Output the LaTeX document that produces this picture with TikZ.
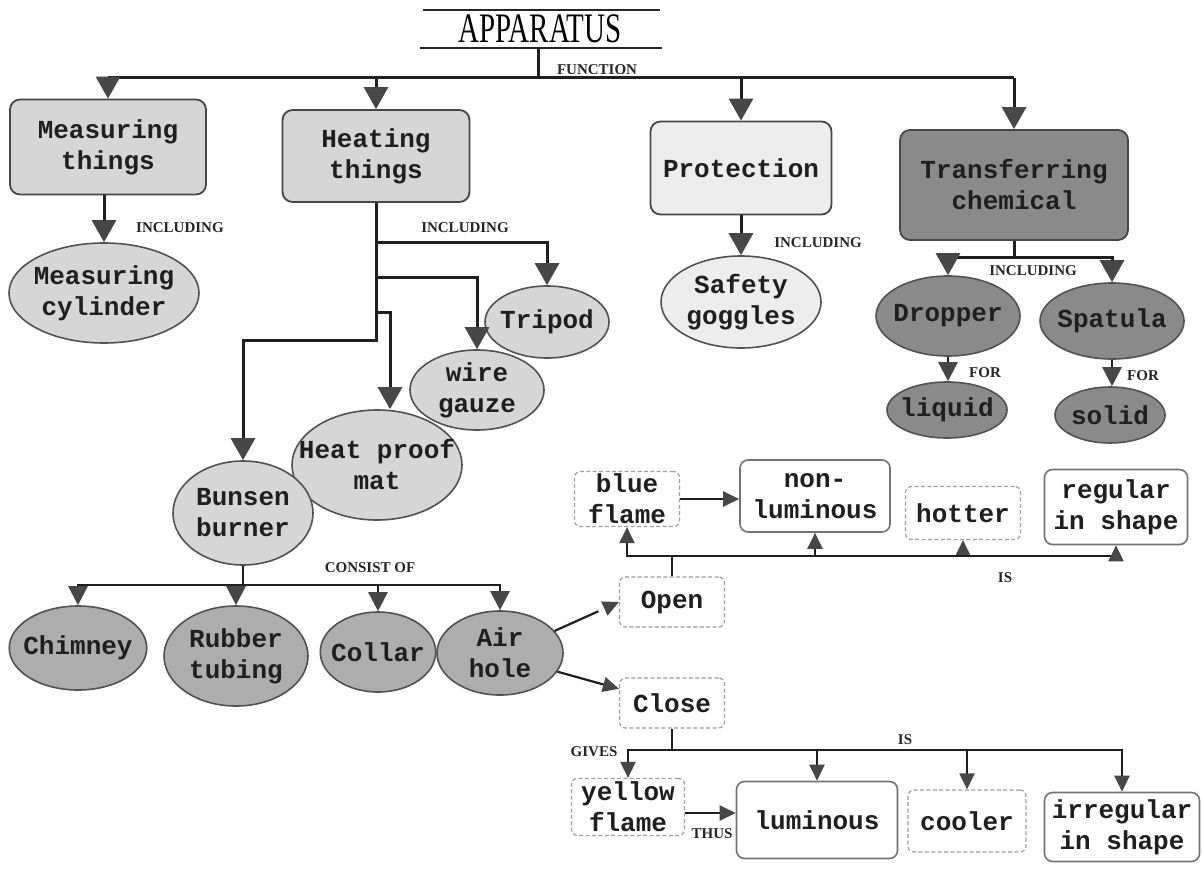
\documentclass[tikz,border=0pt]{standalone}
\usepackage{fontspec}
\usepackage{graphicx}
\usetikzlibrary{arrows.meta,shapes.geometric}
\newfontfamily\boxfont{Liberation Mono}
\newfontfamily\tagfont{Liberation Serif}
\newfontfamily\headfont{Liberation Serif}

\tikzset{
  base/.style={font=\boxfont\bfseries\fontsize{13}{15.5}\selectfont, align=center, text=black!88},
  box/.style={base, rectangle, rounded corners=5pt, draw=black!72, line width=0.9pt, inner sep=0pt},
  oval/.style={base, ellipse, draw=black!68, line width=0.8pt, inner xsep=-3pt, inner ysep=0pt},
  note/.style={base, rectangle, rounded corners=3pt, draw=black!38, dash pattern=on 2pt off 1.2pt, line width=0.6pt, fill=white, inner sep=0pt},
  frame/.style={base, rectangle, rounded corners=4pt, draw=black!55, line width=0.8pt, fill=white, inner sep=0pt},
  light/.style={fill=black!16},
  pale/.style={fill=black!7},
  mid/.style={fill=black!32},
  dark/.style={fill=black!46},
  tag/.style={font=\tagfont\bfseries\fontsize{7.5}{8}\selectfont, inner sep=0pt, text=black!85},
  wire/.style={line width=1.5pt, draw=black!88},
  thinwire/.style={line width=1.1pt, draw=black!88},
  arr/.style={wire, -{Triangle[width=12pt,length=11pt,color=black!72]}},
  arrmid/.style={wire, line width=1.3pt, -{Triangle[width=9.5pt,length=9.5pt,color=black!72]}},
  arrsmall/.style={thinwire, -{Triangle[width=7.5pt,length=8pt,color=black!72]}},
}

\begin{document}
\begin{tikzpicture}[x=0.5pt,y=-0.5pt]
  \fill[white] (0,0) rectangle (1202,871);
  \useasboundingbox (0,0) rectangle (1202,871);

  % heading
  \node[font=\headfont\fontsize{21}{21}\selectfont, inner sep=0pt] (title) at (540,29) {\scalebox{0.69}[1]{APPARATUS}};
  \draw[line width=1.1pt, black!85] (423,10) -- (660,10);
  \draw[line width=1.1pt, black!85] (420,48) -- (662,48);
  \coordinate (tb) at (538,48);
  \coordinate (hub) at (538,78);
  \node[tag] (lfunc) at (597,70) {FUNCTION};

  % first level
  \node[box,light,minimum width=98pt,minimum height=47.5pt] (mt) at (108,147) {Measuring\\things};
  \node[box,light,minimum width=93.5pt,minimum height=46pt] (ht) at (376,156) {Heating\\things};
  \node[box,pale,minimum width=90.5pt,minimum height=46.5pt] (pr) at (741,168) {Protection};
  \node[box,dark,minimum width=114pt,minimum height=55pt] (tc) at (1014,185) {Transferring\\chemical};

  \draw[wire] (tb) -- (hub);
  \draw[wire] (mt.north |- hub) -- (tc.north |- hub);
  \draw[arr] (mt.north |- hub) -- (mt.north);
  \draw[arr] (ht.north |- hub) -- (ht.north);
  \draw[arr] (pr.north |- hub) -- (pr.north);
  \draw[arr] (tc.north |- hub) -- (tc.north);

  % measuring
  \node[oval,light,minimum width=95pt,minimum height=50pt] (mc) at (104,293) {Measuring\\cylinder};
  \draw[arr] (mt.south -| mc.north) -- (mc.north);
  \node[tag] (linc1) at (180,228) {INCLUDING};

  % heating
  \node[oval,light,minimum width=62pt,minimum height=36pt] (tripod) at (547,322) {Tripod};
  \node[oval,light,minimum width=67pt,minimum height=40pt] (gauze) at (477,390) {wire\\gauze};
  \node[oval,light,minimum width=85pt,minimum height=55pt,inner xsep=-10pt] (mat) at (377,465) {Heat proof\\mat};
  \node[oval,light,minimum width=70pt,minimum height=52pt] (bunsen) at (243,513) {Bunsen\\burner};
  \draw[arr] (ht.south) -- (376,340) -| (bunsen.north);
  \draw[arr] (376,243) -| (tripod.north);
  \draw[arr] (376,278) -| (gauze.north);
  \draw[arr] (376,312) -| ([xshift=6.5pt]mat.north);
  \node[tag] (linc2) at (465,228) {INCLUDING};

  % protection
  \node[oval,pale,minimum width=80pt,minimum height=46pt] (goggles) at (741,302) {Safety\\goggles};
  \draw[arr] (pr.south) -- (goggles.north);
  \node[tag] (linc3) at (818,243) {INCLUDING};

  % transferring
  \node[oval,dark,minimum width=72pt,minimum height=40pt] (dropper) at (948,316) {Dropper};
  \node[oval,dark,minimum width=72pt,minimum height=38pt] (spatula) at (1112,321) {Spatula};
  \node[oval,dark,minimum width=60pt,minimum height=28pt] (liquid) at (947,410) {liquid};
  \node[oval,dark,minimum width=55pt,minimum height=28pt] (solid) at (1110,415) {solid};
  \draw[arr] (tc.south) -- (1014,258) -| (dropper.north);
  \draw[arr] (1014,258) -| (spatula.north);
  \node[tag] (linc4) at (1033,271) {INCLUDING};
  \draw[arrmid] (dropper.south) -- (dropper.south |- liquid.north);
  \draw[arrmid] (spatula.south) -- (spatula.south |- solid.north);
  \node[tag] (lfor1) at (985,373) {FOR};
  \node[tag] (lfor2) at (1143,376) {FOR};

  % bunsen burner parts
  \node[oval,mid,minimum width=68pt,minimum height=42pt] (chimney) at (78,648) {Chimney};
  \node[oval,mid,minimum width=72pt,minimum height=50pt] (rubber) at (236,656) {Rubber\\tubing};
  \node[oval,mid,minimum width=55pt,minimum height=40pt] (collar) at (378,652) {Collar};
  \node[oval,mid,minimum width=63pt,minimum height=42pt] (air) at (500,653) {Air\\hole};
  \draw[wire, line width=1.3pt] (bunsen.south) -- (243,585);
  \draw[arrmid] (243,585) -| (chimney.north);
  \draw[arrmid] (243,585) -| (rubber.north);
  \draw[arrmid] (243,585) -| (collar.north);
  \draw[arrmid] (243,585) -| (air.north);
  \node[tag] (lcons) at (370,568) {CONSIST OF};

  % air hole states
  \node[note,minimum width=52.5pt,minimum height=25pt] (open) at (672,602) {Open};
  \node[note,minimum width=52.5pt,minimum height=25pt] (close) at (672,703) {Close};
  \draw[arrsmall, dash pattern=on 24pt off 8pt on 14pt] (air.22) -- (open.west);
  \draw[arrsmall] (air.-18) -- (close.165);

  % open
  \node[note,minimum width=52.5pt,minimum height=27.5pt] (blue) at (627,499) {blue\\flame};
  \node[frame,minimum width=75pt,minimum height=36pt] (nonlum) at (815,496) {non-\\luminous};
  \node[note,minimum width=57.5pt,minimum height=26.5pt] (hotter) at (963,513) {hotter};
  \node[frame,minimum width=71.5pt,minimum height=37.5pt] (regular) at (1116,507) {regular\\in shape};
  \draw[thinwire] (open.north) -- (672,556);
  \draw[arrsmall] (672,556) -| (blue.south);
  \draw[arrsmall] (672,556) -| (nonlum.south);
  \draw[arrsmall] (672,556) -| (hotter.south);
  \draw[arrsmall] (672,556) -| (regular.south);
  \draw[arrsmall] (blue.east) -- (blue.east -| nonlum.west);
  \node[tag] (lis1) at (1005,578) {IS};

  % close
  \node[note,minimum width=56.5pt,minimum height=28.5pt] (yellow) at (628,807) {yellow\\flame};
  \node[frame,minimum width=80.5pt,minimum height=38.5pt] (lum) at (817,820) {luminous};
  \node[note,minimum width=59pt,minimum height=31pt] (cooler) at (967,821) {cooler};
  \node[frame,minimum width=77.5pt,minimum height=34.5pt] (irregular) at (1122,827) {irregular\\in shape};
  \draw[thinwire] (close.south) -- (672,750);
  \draw[arrsmall] (672,750) -| (yellow.north);
  \draw[arrsmall] (672,750) -| (lum.north);
  \draw[arrsmall] (672,750) -| (cooler.north);
  \draw[arrsmall] (672,750) -| (irregular.north);
  \draw[arrsmall] ([yshift=-3pt]yellow.east) -- ([yshift=-3pt]yellow.east -| lum.west);
  \node[tag] (lgives) at (594,752) {GIVES};
  \node[tag] (lis2) at (905,740) {IS};
  \node[tag] (lthus) at (712,834) {THUS};
\end{tikzpicture}
\end{document}
